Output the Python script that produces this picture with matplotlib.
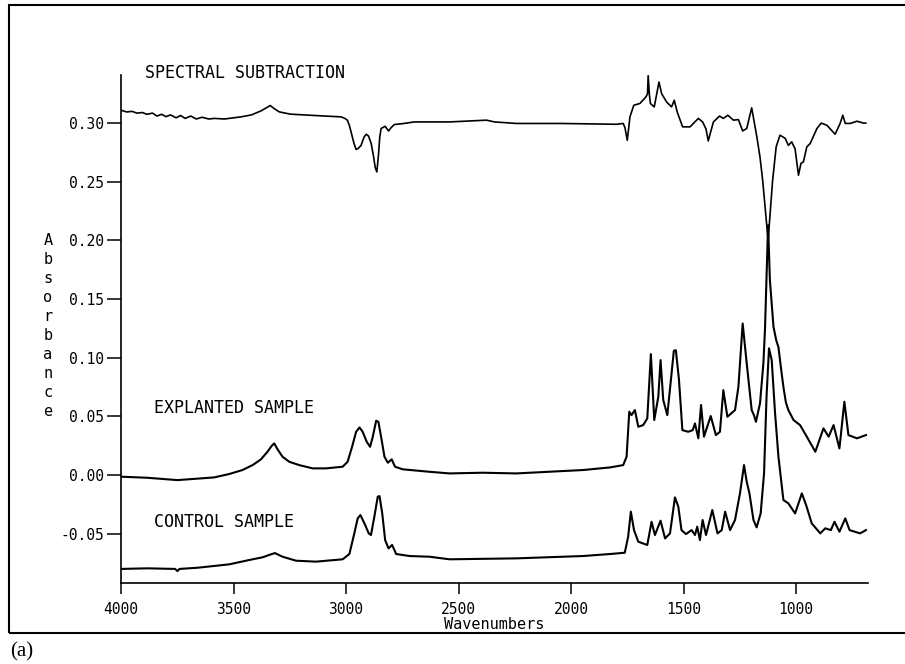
import numpy as np
import matplotlib
matplotlib.use('Agg')
import matplotlib.pyplot as plt
from matplotlib.patches import Rectangle
from matplotlib.ticker import FormatStrFormatter

plt.rcParams['font.family'] = 'DejaVu Sans Mono'

# spectral subtraction trace (wavenumber, absorbance)
sub_wn = [4000, 3975, 3950, 3930, 3905, 3885, 3860, 3840, 3820, 3800, 3780, 3755,
          3735, 3715, 3690, 3665, 3640, 3610, 3586, 3540, 3500, 3467, 3420, 3378,
          3350, 3337, 3320, 3297, 3270, 3245, 3141, 3022, 3005, 2994, 2985, 2976,
          2965, 2955, 2945, 2933, 2920, 2910, 2900, 2888, 2878, 2870, 2863, 2856,
          2850, 2844, 2826, 2811, 2800, 2785, 2750, 2696, 2540, 2376, 2340, 2243,
          2050, 1798, 1768, 1760, 1750, 1744, 1738, 1721, 1694, 1667, 1660, 1657,
          1652, 1647, 1630, 1609, 1597, 1575, 1553, 1541, 1528, 1504, 1471, 1434,
          1415, 1400, 1390, 1380, 1367, 1340, 1323, 1303, 1278, 1256, 1237, 1219,
          1197, 1174, 1160, 1148, 1124, 1104, 1088, 1071, 1048, 1034, 1019, 1004,
          989, 978, 967, 952, 937, 907, 888, 863, 826, 804, 792, 781,
          759, 729, 700, 690]
sub_abs = [0.311, 0.3095, 0.310, 0.3085, 0.309, 0.3075, 0.3085, 0.306, 0.3075, 0.3055,
           0.307, 0.3045, 0.3065, 0.304, 0.306, 0.3035, 0.305, 0.3035, 0.304, 0.3035,
           0.3045, 0.3053, 0.307, 0.3104, 0.3135, 0.315, 0.3125, 0.3096, 0.3085, 0.3076,
           0.3065, 0.3053, 0.304, 0.3025, 0.298, 0.2914, 0.283, 0.2775, 0.2785, 0.281,
           0.288, 0.2905, 0.289, 0.2826, 0.272, 0.262, 0.2584, 0.272, 0.288, 0.2954,
           0.2973, 0.2933, 0.296, 0.2988, 0.2995, 0.301, 0.301, 0.3025, 0.301, 0.2997,
           0.2997, 0.299, 0.2997, 0.296, 0.2854, 0.295, 0.3053, 0.3152, 0.3167, 0.3223,
           0.325, 0.3405, 0.325, 0.3167, 0.3138, 0.335, 0.325, 0.318, 0.3138, 0.3195,
           0.3095, 0.2968, 0.2968, 0.304, 0.301, 0.295, 0.2848, 0.292, 0.301, 0.306,
           0.304, 0.3067, 0.3025, 0.303, 0.2933, 0.2954, 0.313, 0.2883, 0.271, 0.251,
           0.200, 0.251, 0.280, 0.2897, 0.287, 0.281, 0.284, 0.278, 0.2556, 0.2656,
           0.267, 0.2797, 0.2826, 0.2954, 0.300, 0.2982, 0.2905, 0.2997, 0.3067, 0.2997,
           0.2997, 0.3016, 0.300, 0.300]

# explanted sample
expl_wn = [4000, 3883, 3749, 3586, 3519, 3460, 3415, 3378, 3349, 3331, 3319, 3304,
           3282, 3252, 3208, 3148, 3089, 3015, 2993, 2973, 2955, 2940, 2926, 2908,
           2893, 2881, 2866, 2856, 2844, 2829, 2814, 2797, 2782, 2748, 2629, 2540,
           2392, 2243, 1946, 1827, 1768, 1753, 1741, 1731, 1716, 1701, 1679, 1661,
           1645, 1630, 1612, 1602, 1590, 1572, 1556, 1543, 1534, 1520, 1505, 1479,
           1459, 1449, 1434, 1422, 1409, 1379, 1356, 1338, 1323, 1305, 1271, 1256,
           1237, 1219, 1197, 1187, 1178, 1160, 1145, 1138, 1130, 1124, 1116, 1100,
           1088, 1078, 1066, 1056, 1045, 1034, 1011, 982, 952, 914, 878, 855,
           833, 807, 785, 767, 729, 689]
expl_abs = [-0.0014, -0.0023, -0.0043, -0.002, 0.0009, 0.0043, 0.0085, 0.0134, 0.0199,
            0.0247, 0.027, 0.0219, 0.0156, 0.0113, 0.0085, 0.0057, 0.0057, 0.0071,
            0.0113, 0.0241, 0.0369, 0.0406, 0.0369, 0.0284, 0.0241, 0.0326, 0.0463,
            0.0454, 0.0326, 0.0156, 0.0105, 0.0134, 0.0071, 0.0049, 0.0028, 0.0014,
            0.002, 0.0014, 0.0043, 0.0065, 0.0085, 0.0156, 0.054, 0.0511, 0.0554,
            0.0412, 0.0426, 0.0483, 0.1031, 0.0469, 0.0667, 0.098, 0.064, 0.0511,
            0.081, 0.1059, 0.1065, 0.081, 0.0383, 0.0369, 0.0383, 0.044, 0.0313,
            0.0597, 0.0327, 0.0503, 0.0341, 0.0369, 0.0724, 0.0497, 0.0554, 0.0752,
            0.1292, 0.0951, 0.0554, 0.0511, 0.0454, 0.0611, 0.0951, 0.1235, 0.175,
            0.213, 0.166, 0.1263, 0.115, 0.109, 0.090, 0.0752, 0.062, 0.0554,
            0.0469, 0.0426, 0.0327, 0.0199, 0.0398, 0.0327, 0.0426, 0.0227, 0.0625,
            0.0341, 0.0313, 0.0341]

# control sample
ctrl_wn = [4000, 3883, 3760, 3749, 3740, 3660, 3519, 3430, 3371, 3334, 3316, 3282,
           3222, 3133, 3015, 2985, 2963, 2948, 2936, 2918, 2899, 2889, 2874, 2859,
           2851, 2839, 2826, 2811, 2795, 2777, 2718, 2629, 2540, 2243, 1946, 1827,
           1761, 1746, 1734, 1720, 1701, 1661, 1642, 1627, 1602, 1582, 1560, 1538,
           1523, 1509, 1489, 1464, 1449, 1439, 1427, 1415, 1400, 1372, 1349, 1330,
           1315, 1293, 1271, 1249, 1231, 1219, 1207, 1189, 1175, 1157, 1142, 1131,
           1120, 1108, 1093, 1078, 1056, 1034, 1004, 974, 955, 930, 892, 870,
           845, 829, 807, 781, 762, 715, 689]
ctrl_abs = [-0.080, -0.0795, -0.080, -0.0818, -0.080, -0.079, -0.0761, -0.0724,
            -0.0701, -0.0676, -0.0665, -0.0696, -0.073, -0.0738, -0.0718, -0.0673,
            -0.0497, -0.0369, -0.0341, -0.0412, -0.0497, -0.0511, -0.0355, -0.0185,
            -0.0179, -0.0326, -0.0554, -0.0625, -0.0596, -0.0673, -0.069, -0.0696,
            -0.0718, -0.071, -0.069, -0.0673, -0.0662, -0.0525, -0.0312, -0.0469,
            -0.0568, -0.0596, -0.0398, -0.0511, -0.0389, -0.054, -0.0497, -0.019,
            -0.027, -0.0469, -0.0503, -0.0469, -0.0511, -0.044, -0.0554, -0.0383,
            -0.0511, -0.0298, -0.0497, -0.0469, -0.0312, -0.0469, -0.0383, -0.0156,
            0.0085, -0.0057, -0.0156, -0.0383, -0.0446, -0.0326, 0.0014, 0.0667,
            0.108, 0.098, 0.0526, 0.0156, -0.0213, -0.0241, -0.0327, -0.0156,
            -0.0256, -0.0412, -0.0497, -0.0454, -0.0469, -0.0398, -0.0483, -0.0369,
            -0.0469, -0.0497, -0.0469]

x_ticks = [4000, 3500, 3000, 2500, 2000, 1500, 1000]
y_ticks = [-0.05, 0.00, 0.05, 0.10, 0.15, 0.20, 0.25, 0.30]

fig = plt.figure(figsize=(9.05, 6.64), dpi=100)
ax = fig.add_axes([121/905, 1 - 583/664, (868 - 121)/905, (583 - 75)/664])

ax.plot(sub_wn, sub_abs, color='black', lw=1.2)
ax.plot(expl_wn, expl_abs, color='black', lw=1.5)
ax.plot(ctrl_wn, ctrl_abs, color='black', lw=1.5)

ax.set_xlim(4000, 680)
ax.set_ylim(-0.092, 0.341)
ax.spines[['top', 'right']].set_visible(False)
for s in ['left', 'bottom']:
    ax.spines[s].set_linewidth(1.2)

ax.set_xticks(x_ticks)
ax.set_yticks(y_ticks)
ax.yaxis.set_major_formatter(FormatStrFormatter('%.2f'))
ax.tick_params(axis='y', direction='out', length=10, width=1.1, labelsize=10.5, pad=2)
ax.tick_params(axis='x', direction='out', length=8, width=1.1, labelsize=10.5, pad=6)
ax.set_xlabel('Wavenumbers', fontsize=11, labelpad=0)

ax.text(3893, 0.343, 'SPECTRAL SUBTRACTION', fontsize=12, va='center', clip_on=False)
ax.text(3853, 0.057, 'EXPLANTED SAMPLE', fontsize=12, va='center')
ax.text(3853, -0.040, 'CONTROL SAMPLE', fontsize=12, va='center')

# stacked y label
for i, ch in enumerate('Absorbance'):
    fig.text(48/905, 1 - (240 + i*19.1)/664, ch, ha='center', va='center', fontsize=11)

# outer frame of the figure panel
fig.add_artist(Rectangle((9/905, 1 - 633/664), 2, (633 - 5)/664,
                         transform=fig.transFigure, fill=False, lw=1.5, ec='black'))
fig.text(10/905, 1 - 652/664, '(a)', family='Liberation Serif', fontsize=15, va='center')

fig.savefig('out.png', dpi=100)
